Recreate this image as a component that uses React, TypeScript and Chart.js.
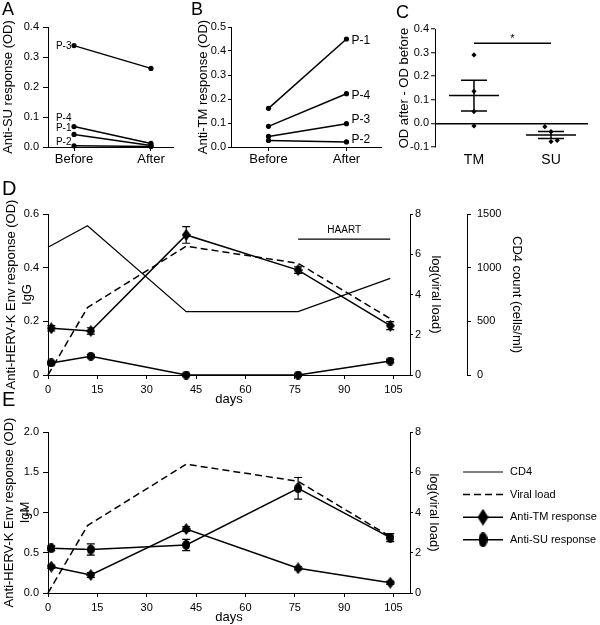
import React, { useEffect, useRef } from 'react';
import { Chart, registerables } from 'chart.js';

Chart.register(...registerables);

const FONT = '"Liberation Sans", Arial, Helvetica, sans-serif';
const INK = '#000000';
Chart.defaults.font.family = FONT;
Chart.defaults.color = INK;

// ---------------- data ----------------
const BEFORE_AFTER = ['Before', 'After'];

// Panel A: anti-SU response
const A_PATIENTS = ['P-3', 'P-4', 'P-1', 'P-2'];
const A_SU_BEFORE = [0.338, 0.068, 0.042, 0.004];
const A_SU_AFTER = [0.262, 0.012, 0.005, 0.002];
const A_Y_TICKS = [0, 0.1, 0.2, 0.3, 0.4];

// Panel B: anti-TM response
const B_PATIENTS = ['P-1', 'P-4', 'P-3', 'P-2'];
const B_TM_BEFORE = [0.161, 0.086, 0.044, 0.027];
const B_TM_AFTER = [0.45, 0.222, 0.097, 0.021];
const B_Y_TICKS = [0, 0.1, 0.2, 0.3, 0.4, 0.5];

// Panel C: OD after - OD before
const C_GROUPS = ['TM', 'SU'];
const C_TM_X = [0, 0, 0, 0];
const C_TM_DIFF = [0.29, 0.136, 0.05, -0.011];
const C_SU_X = [0.92, 1, 1, 1.08];
const C_SU_DIFF = [-0.014, -0.035, -0.077, -0.072];
const C_MEAN = [0.118, -0.049];
const C_SEM = [0.065, 0.0145];
const C_SIG_LEVEL = 0.34;
const C_SIG_MARK = '*';
const C_Y_TICKS = [-0.1, 0, 0.1, 0.2, 0.3, 0.4];

// Panels D / E: time course
const DAY_TICKS = [0, 15, 30, 45, 60, 75, 90, 105];
const CLINIC_DAYS = [0, 12, 42, 76, 104];
const SAMPLE_DAYS = [1, 13, 42, 76, 104];
const CD4_COUNT = [1190, 1390, 590, 590, 900];
const VIRAL_LOAD = [0, 3.35, 6.4, 5.55, 2.8];
const IGG_TM = [0.174, 0.164, 0.522, 0.391, 0.184];
const IGG_TM_ERR = [0.01, 0.012, 0.031, 0.012, 0.015];
const IGG_SU = [0.045, 0.07, 0, 0, 0.052];
const IGG_SU_ERR = [0.006, 0.006, 0.004, 0.004, 0.006];
const IGM_TM = [0.327, 0.224, 0.795, 0.307, 0.128];
const IGM_TM_ERR = [0.02, 0.03, 0.03, 0.02, 0.02];
const IGM_SU = [0.555, 0.54, 0.597, 1.3, 0.687];
const IGM_SU_ERR = [0.03, 0.07, 0.07, 0.135, 0.05];
const HAART_DAYS = [76, 104];
const HAART_LEVEL = 6.75;
const IGG_TICKS = [0, 0.2, 0.4, 0.6];
const IGM_TICKS = [0, 0.5, 1, 1.5, 2];
const VIRAL_TICKS = [0, 2, 4, 6, 8];
const CD4_TICKS = [0, 500, 1000, 1500];
const LEGEND_LABELS = ['CD4', 'Viral load', 'Anti-TM response', 'Anti-SU response'];

// ---------------- helpers ----------------
const pts = (xs: number[], ys: number[]) => xs.map((x, i) => ({ x, y: ys[i] }));
const fixTicks = (vals: number[]) => (ax: any) => {
  ax.ticks = vals.map((value) => ({ value }));
};
const f = (size: number, lineHeight = 1.2) => ({ family: FONT, size, lineHeight });

const CD4_STYLE = { borderWidth: 1.2, borderDash: [] as number[] };
const VIRAL_STYLE = { borderWidth: 1.5, borderDash: [7, 4] };
const RESP_STYLE = { borderWidth: 1.5 };

function makeMarker(kind: 'diamond' | 'ellipse', w: number, h: number) {
  const c = document.createElement('canvas');
  c.width = w;
  c.height = h;
  const g = c.getContext('2d')!;
  g.fillStyle = INK;
  g.beginPath();
  if (kind === 'diamond') {
    g.moveTo(w / 2, 0);
    g.lineTo(w, h / 2);
    g.lineTo(w / 2, h);
    g.lineTo(0, h / 2);
    g.closePath();
  } else {
    g.ellipse(w / 2, h / 2, w / 2, h / 2, 0, 0, Math.PI * 2);
  }
  g.fill();
  return c;
}

const grid = (len: number) => ({
  display: true,
  drawOnChartArea: false,
  drawTicks: true,
  tickLength: len,
  color: INK,
  lineWidth: 1,
});
const border = { display: true, color: INK, width: 1 };

const baseOptions = (padding: any) => ({
  animation: false as const,
  responsive: false,
  devicePixelRatio: 1,
  events: [] as any[],
  layout: { padding },
  plugins: { legend: { display: false }, tooltip: { enabled: false } },
});

function pointLabelPlugin(labels: string[], idx: number, side: 'left' | 'right', gap: number, dys: number[], size: number) {
  return {
    id: 'pointLabels',
    afterDatasetsDraw(chart: any) {
      const ctx = chart.ctx;
      ctx.save();
      ctx.font = `${size}px ${FONT}`;
      ctx.fillStyle = INK;
      ctx.textBaseline = 'middle';
      ctx.textAlign = side === 'left' ? 'right' : 'left';
      labels.forEach((lab, i) => {
        const el = chart.getDatasetMeta(i).data[idx];
        ctx.fillText(lab, el.x + (side === 'left' ? -gap : gap), el.y + dys[i]);
      });
      ctx.restore();
    },
  };
}

const errorBarPlugin = {
  id: 'errorBars',
  afterDatasetsDraw(chart: any) {
    const ctx = chart.ctx;
    chart.data.datasets.forEach((ds: any, i: number) => {
      if (!ds.errors) return;
      const meta = chart.getDatasetMeta(i);
      const ys = chart.scales[meta.yAxisID];
      ctx.save();
      ctx.strokeStyle = INK;
      ctx.lineWidth = 1.2;
      ds.data.forEach((p: any, j: number) => {
        const e = ds.errors[j];
        if (!e) return;
        const x = meta.data[j].x;
        const yt = ys.getPixelForValue(p.y + e);
        const yb = ys.getPixelForValue(p.y - e);
        ctx.beginPath();
        ctx.moveTo(x, yt);
        ctx.lineTo(x, yb);
        ctx.moveTo(x - 4, yt);
        ctx.lineTo(x + 4, yt);
        ctx.moveTo(x - 4, yb);
        ctx.lineTo(x + 4, yb);
        ctx.stroke();
      });
      ctx.restore();
    });
  },
};

// ---------------- panel builders ----------------
function pairDatasets(values0: number[], values1: number[], labels: string[]) {
  return labels.map((label, i) => ({
    label,
    data: [
      { x: 0, y: values0[i] },
      { x: 1, y: values1[i] },
    ],
    showLine: true,
    borderColor: INK,
    backgroundColor: INK,
    borderWidth: 1.5,
    pointRadius: 2.6,
    pointBorderWidth: 0,
    clip: false,
  }));
}

function pairScales(
  xmin: number,
  xmax: number,
  yTicks: number[],
  title: string,
  yWidth: number,
  titlePad: number,
  tickLen: number,
  tickPad: number
) {
  return {
    x: {
      type: 'linear',
      min: xmin,
      max: xmax,
      afterBuildTicks: fixTicks([0, 1]),
      afterFit: (ax: any) => {
        ax.height = 25;
      },
      ticks: {
        callback: (v: any) => BEFORE_AFTER[Math.round(Number(v))],
        font: f(13),
        color: INK,
        padding: 1,
        maxRotation: 0,
        autoSkip: false,
      },
      grid: grid(4),
      border,
    },
    y: {
      type: 'linear',
      min: yTicks[0],
      max: yTicks[yTicks.length - 1],
      afterBuildTicks: fixTicks(yTicks),
      afterFit: (ax: any) => {
        ax.width = yWidth;
      },
      ticks: { callback: (v: any) => Number(v).toFixed(1), font: f(11), color: INK, padding: tickPad },
      grid: grid(tickLen),
      border,
      title: { display: true, text: title, font: f(13), color: INK, padding: { top: titlePad, bottom: 0 } },
    },
  };
}

function buildA(): any {
  return {
    type: 'scatter',
    data: { datasets: pairDatasets(A_SU_BEFORE, A_SU_AFTER, A_PATIENTS) },
    options: {
      ...baseOptions({ top: 27, right: 12, bottom: 0, left: 0 }),
      scales: pairScales(-0.338, 1.286, A_Y_TICKS, 'Anti-SU response (OD)', 48, 1, 5, 4),
    },
    plugins: [pointLabelPlugin(A_PATIENTS, 0, 'left', 2.5, [0.5, -8, -6, -3.5], 10)],
  };
}

function buildB(): any {
  return {
    type: 'scatter',
    data: { datasets: pairDatasets(B_TM_BEFORE, B_TM_AFTER, B_PATIENTS) },
    options: {
      ...baseOptions({ top: 27, right: 2, bottom: 0, left: 0 }),
      scales: pairScales(-0.481, 1.443, B_Y_TICKS, 'Anti-TM response (OD)', 46, 10.2, 3, 2),
    },
    plugins: [pointLabelPlugin(B_PATIENTS, 1, 'right', 5, [1.5, 2, -4, -2], 12)],
  };
}

function buildC(): any {
  const statsPlugin = {
    id: 'cStats',
    afterDatasetsDraw(chart: any) {
      const { ctx } = chart;
      const x = chart.scales.x;
      const y = chart.scales.y;
      ctx.save();
      ctx.strokeStyle = INK;
      ctx.lineWidth = 1.5;
      C_MEAN.forEach((m, g) => {
        const cx = x.getPixelForValue(g);
        const ym = y.getPixelForValue(m);
        const yh = y.getPixelForValue(m + C_SEM[g]);
        const yl = y.getPixelForValue(m - C_SEM[g]);
        ctx.beginPath();
        ctx.moveTo(cx - 25, ym);
        ctx.lineTo(cx + 25, ym);
        ctx.moveTo(cx - 13, yh);
        ctx.lineTo(cx + 13, yh);
        ctx.moveTo(cx - 13, yl);
        ctx.lineTo(cx + 13, yl);
        ctx.moveTo(cx, yh);
        ctx.lineTo(cx, yl);
        ctx.stroke();
      });
      const ys = y.getPixelForValue(C_SIG_LEVEL);
      const x0 = x.getPixelForValue(0);
      const x1 = x.getPixelForValue(1);
      ctx.beginPath();
      ctx.moveTo(x0, ys);
      ctx.lineTo(x1, ys);
      ctx.stroke();
      ctx.fillStyle = INK;
      ctx.font = `11px ${FONT}`;
      ctx.textAlign = 'center';
      ctx.textBaseline = 'middle';
      ctx.fillText(C_SIG_MARK, (x0 + x1) / 2, ys - 4);
      ctx.restore();
    },
  };
  const dot = {
    showLine: false,
    borderColor: INK,
    backgroundColor: INK,
    pointStyle: 'rectRot',
    pointRadius: 2.6,
    pointBorderWidth: 0,
    clip: false,
  };
  return {
    type: 'scatter',
    data: {
      datasets: [
        { label: C_GROUPS[0], data: pts(C_TM_X, C_TM_DIFF), ...dot },
        { label: C_GROUPS[1], data: pts(C_SU_X, C_SU_DIFF), ...dot },
      ],
    },
    options: {
      ...baseOptions({ top: 29, right: 12, bottom: 0, left: 0 }),
      scales: {
        x: {
          type: 'linear',
          min: -0.506,
          max: 1.48,
          afterBuildTicks: fixTicks([0, 1]),
          afterFit: (ax: any) => {
            ax.height = 25;
          },
          ticks: {
            callback: (v: any) => C_GROUPS[Math.round(Number(v))],
            font: f(14),
            color: INK,
            padding: 4.6,
            maxRotation: 0,
            autoSkip: false,
          },
          grid: { display: false, drawTicks: false },
          border: { display: false },
        },
        y: {
          type: 'linear',
          min: C_Y_TICKS[0],
          max: C_Y_TICKS[C_Y_TICKS.length - 1],
          afterBuildTicks: fixTicks(C_Y_TICKS),
          afterFit: (ax: any) => {
            ax.width = 50;
          },
          ticks: { callback: (v: any) => Number(v).toFixed(1), font: f(11), color: INK, padding: 2 },
          grid: {
            display: true,
            drawOnChartArea: true,
            drawTicks: true,
            tickLength: 4,
            tickColor: INK,
            tickWidth: 1,
            color: (c: any) => (c.tick && Math.abs(c.tick.value) < 1e-9 ? INK : 'rgba(0,0,0,0)'),
            lineWidth: 1.5,
          },
          border,
          title: {
            display: true,
            text: 'OD after - OD before',
            font: f(13),
            color: INK,
            padding: { top: 12, bottom: 0 },
          },
        },
      },
    },
    plugins: [statsPlugin],
  };
}

function responseDatasets(tm: number[], tmErr: number[], su: number[], suErr: number[], diamond: any, ellipse: any) {
  return [
    {
      label: 'Anti-TM response',
      data: pts(SAMPLE_DAYS, tm),
      errors: tmErr,
      yAxisID: 'y',
      showLine: true,
      borderColor: INK,
      backgroundColor: INK,
      borderWidth: RESP_STYLE.borderWidth,
      pointStyle: diamond,
      pointRadius: 6,
      clip: false,
    },
    {
      label: 'Anti-SU response',
      data: pts(SAMPLE_DAYS, su),
      errors: suErr,
      yAxisID: 'y',
      showLine: true,
      borderColor: INK,
      backgroundColor: INK,
      borderWidth: RESP_STYLE.borderWidth,
      pointStyle: ellipse,
      pointRadius: 6,
      clip: false,
    },
  ];
}

const viralDataset = () => ({
  label: 'Viral load',
  data: pts(CLINIC_DAYS, VIRAL_LOAD),
  yAxisID: 'y1',
  showLine: true,
  borderColor: INK,
  borderWidth: VIRAL_STYLE.borderWidth,
  borderDash: VIRAL_STYLE.borderDash,
  pointRadius: 0,
  clip: false,
});

function dayAxis(height: number, titlePadBottom: number) {
  return {
    type: 'linear',
    min: 0,
    max: 110,
    afterBuildTicks: fixTicks(DAY_TICKS),
    afterFit: (ax: any) => {
      ax.height = height;
    },
    ticks: { font: f(11), color: INK, padding: 4.4, maxRotation: 0, autoSkip: false },
    grid: grid(4),
    border,
    title: { display: true, text: 'days', font: f(13), color: INK, padding: { top: 0, bottom: titlePadBottom } },
  };
}

function leftOD(ticks: number[], title: string[], titlePad: number, fmt: (v: number) => string) {
  return {
    type: 'linear',
    position: 'left',
    min: ticks[0],
    max: ticks[ticks.length - 1],
    afterBuildTicks: fixTicks(ticks),
    afterFit: (ax: any) => {
      ax.width = 48;
    },
    ticks: { callback: (v: any) => fmt(Number(v)), font: f(11), color: INK, padding: 4 },
    grid: grid(5),
    border,
    title: { display: true, text: title, font: f(13, 1.25), color: INK, padding: { top: titlePad, bottom: 0 } },
  };
}

function rightAxis(ticks: number[], title: string, width: number, weight: number, tickLen: number, pad: number, titlePad: number) {
  return {
    type: 'linear',
    position: 'right',
    weight,
    min: ticks[0],
    max: ticks[ticks.length - 1],
    afterBuildTicks: fixTicks(ticks),
    afterFit: (ax: any) => {
      ax.width = width;
    },
    ticks: { callback: (v: any) => String(v), font: f(11), color: INK, padding: pad },
    grid: grid(tickLen),
    border,
    title: { display: true, text: title, font: f(13), color: INK, padding: { top: titlePad, bottom: 0 } },
  };
}

function buildD(): any {
  const diamond = makeMarker('diamond', 9, 12);
  const ellipse = makeMarker('ellipse', 8, 9);
  const haartPlugin = {
    id: 'haart',
    afterDatasetsDraw(chart: any) {
      const { ctx } = chart;
      const x = chart.scales.x;
      const y1 = chart.scales.y1;
      const cx = x.getPixelForValue((HAART_DAYS[0] + HAART_DAYS[1]) / 2);
      const cy = y1.getPixelForValue(HAART_LEVEL) - 9;
      ctx.save();
      ctx.fillStyle = INK;
      ctx.font = `10px ${FONT}`;
      ctx.textAlign = 'center';
      ctx.textBaseline = 'middle';
      ctx.fillText('HAART', cx, cy);
      ctx.restore();
    },
  };
  return {
    type: 'scatter',
    data: {
      datasets: [
        {
          label: 'CD4',
          data: pts(CLINIC_DAYS, CD4_COUNT),
          yAxisID: 'y2',
          showLine: true,
          borderColor: INK,
          borderWidth: CD4_STYLE.borderWidth,
          pointRadius: 0,
          clip: false,
        },
        viralDataset(),
        ...responseDatasets(IGG_TM, IGG_TM_ERR, IGG_SU, IGG_SU_ERR, diamond, ellipse),
        {
          label: 'HAART',
          data: pts(HAART_DAYS, [HAART_LEVEL, HAART_LEVEL]),
          yAxisID: 'y1',
          showLine: true,
          borderColor: INK,
          borderWidth: 1.2,
          pointRadius: 0,
          clip: false,
        },
      ],
    },
    options: {
      ...baseOptions({ top: 19, right: 71, bottom: 0, left: 0 }),
      scales: {
        x: dayAxis(35, 3.2),
        y: leftOD(IGG_TICKS, ['Anti-HERV-K Env response (OD)', 'IgG'], 2.9, (v) => (v === 0 ? '0' : v.toFixed(1))),
        y1: rightAxis(VIRAL_TICKS, 'log(viral load)', 57, 0, 3, 2, 23.2),
        y2: rightAxis(CD4_TICKS, 'CD4 count (cells/ml)', 62, 1, 4, 6, 4.2),
      },
    },
    plugins: [errorBarPlugin, haartPlugin],
  };
}

function buildE(): any {
  const diamond = makeMarker('diamond', 9, 12);
  const ellipse = makeMarker('ellipse', 8, 10);
  const bigDiamond = makeMarker('diamond', 11, 17);
  const bigEllipse = makeMarker('ellipse', 9, 15);
  const entries = [
    { label: LEGEND_LABELS[0], width: CD4_STYLE.borderWidth, dash: CD4_STYLE.borderDash, marker: null as any },
    { label: LEGEND_LABELS[1], width: VIRAL_STYLE.borderWidth, dash: VIRAL_STYLE.borderDash, marker: null as any },
    { label: LEGEND_LABELS[2], width: RESP_STYLE.borderWidth, dash: [] as number[], marker: bigDiamond },
    { label: LEGEND_LABELS[3], width: RESP_STYLE.borderWidth, dash: [] as number[], marker: bigEllipse },
  ];
  const legendPlugin = {
    id: 'sideLegend',
    afterDraw(chart: any) {
      const { ctx, chartArea } = chart;
      const x0 = chartArea.right + 53;
      const x1 = x0 + 40;
      ctx.save();
      ctx.font = `11px ${FONT}`;
      ctx.fillStyle = INK;
      ctx.strokeStyle = INK;
      ctx.textAlign = 'left';
      ctx.textBaseline = 'middle';
      entries.forEach((e, i) => {
        const yy = chartArea.top + 40 + i * 22.6;
        ctx.lineWidth = e.width;
        ctx.setLineDash(e.dash);
        ctx.beginPath();
        ctx.moveTo(x0, yy);
        ctx.lineTo(x1, yy);
        ctx.stroke();
        ctx.setLineDash([]);
        if (e.marker) ctx.drawImage(e.marker, (x0 + x1) / 2 - e.marker.width / 2, yy - e.marker.height / 2);
        ctx.fillText(e.label, x1 + 7, yy);
      });
      ctx.restore();
    },
  };
  return {
    type: 'scatter',
    data: {
      datasets: [viralDataset(), ...responseDatasets(IGM_TM, IGM_TM_ERR, IGM_SU, IGM_SU_ERR, diamond, ellipse)],
    },
    options: {
      ...baseOptions({ top: 32, right: 150, bottom: 0, left: 0 }),
      scales: {
        x: dayAxis(32, 0),
        y: leftOD(IGM_TICKS, ['Anti-HERV-K Env response (OD)', 'IgM'], 0.9, (v) => v.toFixed(1)),
        y1: rightAxis(VIRAL_TICKS, 'log(viral load)', 40, 0, 3, 2, 8.2),
      },
    },
    plugins: [errorBarPlugin, legendPlugin],
  };
}

// ---------------- components ----------------
function ChartCanvas(props: { left: number; top: number; width: number; height: number; build: () => any }) {
  const ref = useRef<HTMLCanvasElement>(null);
  useEffect(() => {
    const chart = new Chart(ref.current as HTMLCanvasElement, props.build());
    return () => chart.destroy();
  }, []);
  return (
    <canvas
      ref={ref}
      width={props.width}
      height={props.height}
      style={{ position: 'absolute', left: props.left, top: props.top, width: props.width, height: props.height }}
    />
  );
}

function Letter(props: { x: number; y: number; size: number; text: string }) {
  return (
    <div
      style={{
        position: 'absolute',
        left: props.x,
        top: props.y,
        fontFamily: FONT,
        fontSize: props.size,
        lineHeight: `${props.size}px`,
        color: INK,
      }}
    >
      {props.text}
    </div>
  );
}

export default function App() {
  return (
    <div style={{ position: 'absolute', left: 0, top: 0, width: 600, height: 625, background: '#fff', overflow: 'hidden' }}>
      <ChartCanvas left={0} top={0} width={185} height={172} build={buildA} />
      <ChartCanvas left={185} top={0} width={200} height={172} build={buildB} />
      <ChartCanvas left={385} top={0} width={215} height={172} build={buildC} />
      <ChartCanvas left={0} top={195} width={600} height={215} build={buildD} />
      <ChartCanvas left={0} top={400} width={600} height={225} build={buildE} />
      <Letter x={2} y={0} size={18} text="A" />
      <Letter x={191} y={0} size={18} text="B" />
      <Letter x={396} y={3} size={18} text="C" />
      <Letter x={2} y={178} size={20} text="D" />
      <Letter x={2} y={389} size={20} text="E" />
    </div>
  );
}
